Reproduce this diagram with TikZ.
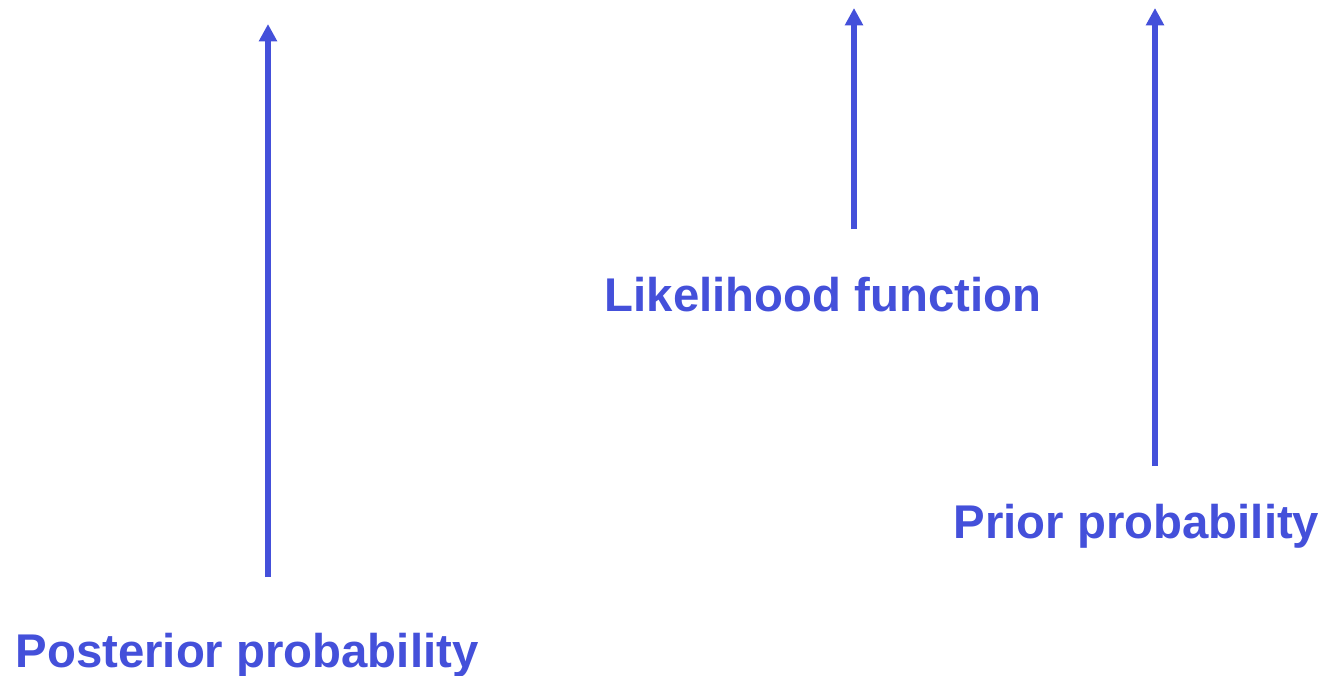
\documentclass[tikz,border=0pt]{standalone}
\usepackage{fontspec}
\setmainfont{Liberation Sans}
\usetikzlibrary{arrows.meta}
\definecolor{pblue}{RGB}{68,80,218}
\begin{document}
\begin{tikzpicture}[x=0.75pt,y=-0.75pt,
  lbl/.style={anchor=base,inner sep=0pt,text=pblue,font=\fontsize{35.5}{42}\selectfont\bfseries},
  uparrow/.style={draw=pblue,line width=3.8pt,-{Triangle[width=13pt,length=13pt]}}]
\useasboundingbox (0,0) rectangle (1324,675);
\node[lbl] (post) at (247,667) {Posterior probability};
\node[lbl] (like) at (823,311) {Likelihood function};
\node[lbl] (prior) at (1136.5,538) {Prior probability};
\coordinate (postA) at (268,577);
\coordinate (postT) at (268,24);
\coordinate (likeA) at (854,229);
\coordinate (likeT) at (854,8);
\coordinate (priorA) at (1155,466);
\coordinate (priorT) at (1155,8);
\draw[uparrow] (postA) -- (postT);
\draw[uparrow] (likeA) -- (likeT);
\draw[uparrow] (priorA) -- (priorT);
\end{tikzpicture}
\end{document}
